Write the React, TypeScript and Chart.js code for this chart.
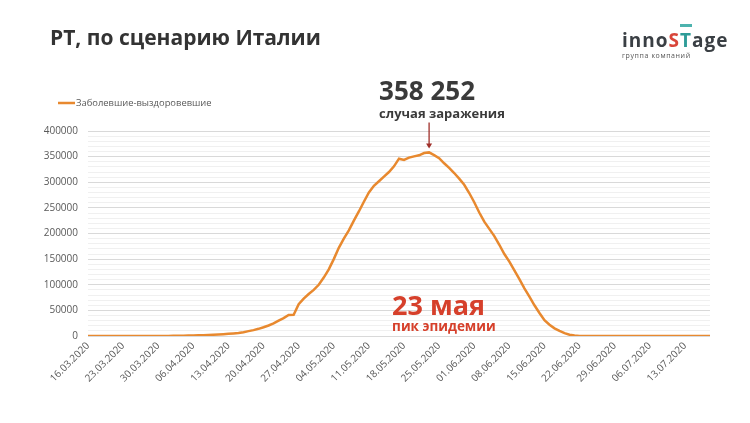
import React, { useEffect, useRef } from "react";
import { Chart, registerables } from "chart.js";

Chart.register(...registerables);

// ---------- data ----------
const TITLE = "РТ, по сценарию Италии";
const SERIES_NAME = "Заболевшие-выздоровевшие";

const START_YEAR = 2020;
const START_MONTH = 3; // March
const START_DAY = 16;
const DAY_COUNT = 125; // 16.03.2020 .. 18.07.2020

const pad2 = (n: number) => (n < 10 ? "0" + n : "" + n);
const CATEGORIES: string[] = [];
for (let i = 0; i < DAY_COUNT; i++) {
  const d = new Date(START_YEAR, START_MONTH - 1, START_DAY + i);
  CATEGORIES.push(pad2(d.getDate()) + "." + pad2(d.getMonth() + 1) + "." + d.getFullYear());
}

const TICK_LABELS = [
  "16.03.2020", "23.03.2020", "30.03.2020", "06.04.2020", "13.04.2020", "20.04.2020",
  "27.04.2020", "04.05.2020", "11.05.2020", "18.05.2020", "25.05.2020", "01.06.2020",
  "08.06.2020", "15.06.2020", "22.06.2020", "29.06.2020", "06.07.2020", "13.07.2020",
];

// infected minus recovered, per day
const VALUES = [
  2, 3, 4, 5, 6, 8, 10, 12, 15, 18, 22, 27, 33, 40, 50,
  100, 180, 280, 400, 550, 750, 1000, 1300, 1650, 2050, 2500, 3000, 3600, 4200, 5000,
  6000, 7500, 9500, 11500, 14000, 17000, 20500, 24500, 30000, 35000, 41000, 41500,
  62000, 73000, 82000, 90000, 100000, 114000, 130000, 150000, 172000, 190000, 206000,
  225000, 243000, 262000, 280000, 293000, 302000, 311000, 320000, 331000, 346000,
  343500, 348000, 350500, 352500, 357000, 358252, 353000, 347000, 337000, 328000,
  318000, 307000, 295000, 279000, 261000, 241000, 223000, 209000, 195000, 178000,
  160000, 145000, 128000, 111000, 93000, 77000, 60000, 45000, 31000, 22000, 15000,
  10000, 5500, 2500, 800, 200,
  0, 0, 0, 0, 0, 0, 0, 0, 0, 0, 0, 0, 0, 0, 0, 0, 0, 0, 0, 0, 0, 0, 0, 0, 0, 0,
];

const Y_MIN = 0;
const Y_MAX = 400000;
const Y_MAJOR = 50000;
const Y_MINOR = 10000;

const PEAK_DATE = "23.05.2020";
const PEAK_NUMBER_TEXT = "358 252";
const PEAK_NUMBER_SUB = "случая заражения";
const PEAK_DAY_TEXT = "23 мая";
const PEAK_DAY_SUB = "пик эпидемии";

// ---------- styles ----------
const LINE_COLOR = "#E8892F";
const TEXT_GRAY = "#595959";
const DARK = "#333333";
const RED = "#D6402B";
const FONT = "'Open Sans', 'Noto Sans', sans-serif";

const annotationPlugin = {
  id: "peakAnnotations",
  afterDraw(chart: any) {
    const ctx = chart.ctx;
    const xs = chart.scales.x;
    const ys = chart.scales.y;
    const idx = CATEGORIES.indexOf(PEAK_DATE);
    const px = xs.getPixelForValue(idx);
    const py = ys.getPixelForValue(VALUES[idx]);
    const y0 = ys.getPixelForValue(0);
    ctx.save();
    // legend
    const ds = chart.data.datasets[0];
    ctx.strokeStyle = ds.borderColor;
    ctx.lineWidth = 2.5;
    ctx.beginPath();
    ctx.moveTo(58, 103);
    ctx.lineTo(75, 103);
    ctx.stroke();
    ctx.fillStyle = TEXT_GRAY;
    ctx.font = `9.4px ${FONT}`;
    ctx.textAlign = "left";
    ctx.textBaseline = "middle";
    ctx.fillText(ds.label, 76, 103.5);
    // arrow
    ctx.strokeStyle = "#A0302A";
    ctx.fillStyle = "#A0302A";
    ctx.lineWidth = 1.3;
    ctx.beginPath();
    ctx.moveTo(px, py - 30);
    ctx.lineTo(px, py - 8);
    ctx.stroke();
    ctx.beginPath();
    ctx.moveTo(px - 3, py - 9);
    ctx.lineTo(px + 3, py - 9);
    ctx.lineTo(px, py - 4);
    ctx.closePath();
    ctx.fill();
    // peak number
    ctx.textAlign = "left";
    ctx.textBaseline = "alphabetic";
    ctx.fillStyle = "#3A3A3A";
    ctx.font = `bold 26px ${FONT}`;
    ctx.fillText(PEAK_NUMBER_TEXT, px - 50, py - 52);
    ctx.font = `bold 13px ${FONT}`;
    ctx.fillText(PEAK_NUMBER_SUB, px - 50, py - 34);
    // peak day
    ctx.fillStyle = RED;
    ctx.font = `bold 27px ${FONT}`;
    ctx.fillText(PEAK_DAY_TEXT, px - 37, y0 - 21);
    ctx.font = `bold 13.5px ${FONT}`;
    ctx.fillText(PEAK_DAY_SUB, px - 37, y0 - 5);
    ctx.restore();
  },
};

export default function App() {
  const canvasRef = useRef<HTMLCanvasElement | null>(null);

  useEffect(() => {
    document.body.style.margin = "0";
    const canvas = canvasRef.current!;
    const chart = new Chart(canvas, {
      type: "line",
      data: {
        labels: CATEGORIES,
        datasets: [
          {
            label: SERIES_NAME,
            data: VALUES,
            borderColor: LINE_COLOR,
            backgroundColor: LINE_COLOR,
            borderWidth: 2.5,
            pointRadius: 0,
            tension: 0,
            fill: false,
          },
        ],
      },
      options: {
        responsive: false,
        animation: false,
        layout: { padding: { left: 38, right: 40, top: 131, bottom: 37 } },
        plugins: {
          legend: { display: false },
          tooltip: { enabled: false },
        },
        scales: {
          x: {
            type: "category",
            offset: false,
            grid: { display: false, drawTicks: false },
            border: { display: false },
            afterFit: (s: any) => {
              s.height = 50;
            },
            ticks: {
              autoSkip: false,
              maxRotation: 45,
              minRotation: 45,
              padding: 4,
              color: TEXT_GRAY,
              font: { family: FONT, size: 10 },
              callback: (_v: any, i: number) =>
                TICK_LABELS.includes(CATEGORIES[i]) ? CATEGORIES[i] : "",
            },
          },
          y: {
            min: Y_MIN,
            max: Y_MAX,
            afterFit: (s: any) => {
              s.width = 50;
            },
            border: { display: false },
            grid: {
              drawTicks: false,
              lineWidth: 1,
              color: (c: any) =>
                c.tick && c.tick.value % Y_MAJOR === 0 ? "#D9D9D9" : "#F0F0F0",
            },
            ticks: {
              stepSize: Y_MINOR,
              maxTicksLimit: 100,
              autoSkip: false,
              padding: 10,
              color: TEXT_GRAY,
              font: { family: FONT, size: 10 },
              callback: (v: any) => (Number(v) % Y_MAJOR === 0 ? String(v) : ""),
            },
          },
        },
      },
      plugins: [annotationPlugin],
    });
    return () => chart.destroy();
  }, []);

  return (
    <div style={{ position: "relative", width: 750, height: 423, background: "#fff", overflow: "hidden" }}>
      <canvas ref={canvasRef} width={750} height={423} style={{ position: "absolute", left: 0, top: 0 }} />
      <div
        style={{
          position: "absolute",
          left: 50,
          top: 26,
          fontFamily: FONT,
          fontWeight: 700,
          fontSize: 21,
          lineHeight: "22px",
          color: DARK,
          whiteSpace: "nowrap",
        }}
      >
        {TITLE}
      </div>
      <div style={{ position: "absolute", left: 622, top: 29, fontFamily: FONT, whiteSpace: "nowrap" }}>
        <div style={{ fontWeight: 700, fontSize: 19, lineHeight: "22px", color: "#3A3F44", letterSpacing: 1 }}>
          inno<span style={{ color: "#D9463A" }}>S</span>
          <span style={{ color: "#2E9C98", borderTop: "3px solid #4DB3AE" }}>T</span>age
        </div>
        <div style={{ fontSize: 7, lineHeight: "8px", color: "#555", letterSpacing: 0.6, marginTop: 1 }}>
          группа компаний
        </div>
      </div>
    </div>
  );
}
